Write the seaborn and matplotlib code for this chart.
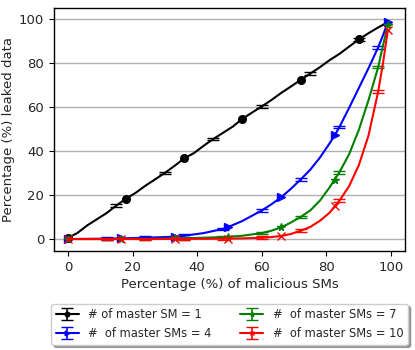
import numpy as np
import matplotlib
matplotlib.use("Agg")
import matplotlib.pyplot as plt
import seaborn as sns

# x positions (percentage of malicious SMs)
x_one = [0, 3, 6, 9, 12, 15, 18, 21, 24, 27, 30, 33, 36, 39, 42, 45, 48, 51,
         54, 57, 60, 63, 66, 69, 72, 75, 78, 81, 84, 87, 90, 93, 96, 98.5]
x_many = [0, 6, 12, 16.5, 24, 30, 33, 36, 42, 48, 49.5, 54, 60, 63, 66, 69, 72,
          75, 78, 81, 82.5, 84, 87, 90, 93, 96, 97.5, 99]

# leaked data (%)
y_sm1 = [0.5, 2.8, 6.2, 9.0, 11.8, 15.2, 18.3, 21.0, 24.2, 27.1, 30.0, 33.2,
         36.6, 39.0, 42.3, 45.4, 48.2, 51.0, 54.6, 57.4, 60.2, 63.1, 66.3, 69.2,
         72.2, 75.1, 78.0, 81.2, 84.0, 87.3, 90.6, 93.4, 96.0, 98.0]
y_sm4 = [0, 0.1, 0.2, 0.3, 0.6, 0.9, 1.1, 1.5, 2.7, 4.6, 5.4, 8.2, 13.0, 15.8,
         19.0, 22.8, 27.0, 31.5, 37.0, 43.5, 47.0, 50.8, 59.5, 68.5, 77.5, 87.0,
         92.5, 98.5]
y_sm7 = [0, 0, 0, 0.05, 0.1, 0.2, 0.3, 0.35, 0.6, 0.9, 1.0, 1.5, 2.7, 3.8, 5.3,
         7.5, 10.0, 13.0, 17.5, 23.5, 27.0, 30.3, 38.5, 49.5, 63.0, 78.0, 88.0,
         97.0]
y_sm10 = [0, 0, 0, 0, 0, 0.05, 0.05, 0.1, 0.1, 0.2, 0.2, 0.3, 0.6, 0.9, 1.4,
          2.3, 3.8, 5.5, 8.3, 12.0, 14.8, 17.4, 24.0, 33.5, 47.0, 67.0, 80.0,
          95.0]

# error bar half-widths
err_sm1 = [0.6] * len(x_one)
err_many = [0.6] * len(x_many)

# which points get markers / error bars
marks_one = [0, 6, 12, 18, 24, 30]
errs_one = [5, 10, 15, 20, 25, 30]
marks_many = [0, 3, 6, 10, 14, 20, 27]
errs_many = [2, 4, 7, 9, 12, 16, 21, 25]

labels = ["# of master SM = 1", "#  of master SMs = 4",
          "#  of master SMs = 7", "#  of master SMs = 10"]

sns.set_theme(style="ticks")
plt.rcParams['font.family'] = ['DejaVu Sans']

fig = plt.figure(figsize=(4.15, 3.5), dpi=100)
ax = fig.add_axes([0.13, 0.283, 0.846, 0.694])


def mask(n, idx):
    m = [False] * n
    for i in idx:
        m[i] = True
    return m


series = [
    (x_one, y_sm1, err_sm1, marks_one, errs_one, 'black', 'o', 5.5),
    (x_many, y_sm4, err_many, marks_many, errs_many, 'blue', '>', 5.5),
    (x_many, y_sm7, err_many, marks_many, errs_many, 'green', '*', 5.5),
    (x_many, y_sm10, err_many, marks_many, errs_many, 'red', 'x', 5.5),
]

for (xs, ys, es, mk, ev, col, m, ms), lab in zip(series, labels):
    ax.errorbar(xs, ys, yerr=es, color=col, marker=m, markersize=ms,
                markevery=mk, errorevery=mask(len(xs), ev), capsize=4,
                linewidth=1.5, elinewidth=1.2, label=lab)

ax.set_xlim(-4.3, 104.3)
ax.set_ylim(-5.4, 104.8)
ax.set_xticks([0, 20, 40, 60, 80, 100])
ax.set_yticks([0, 20, 40, 60, 80, 100])
ax.yaxis.grid(True, color='#b0b0b0', linewidth=1)
ax.xaxis.grid(False)
for s in ax.spines.values():
    s.set_color('black')
    s.set_linewidth(1)
ax.tick_params(axis='both', labelsize=9.5, color='black', length=3.5, width=0.8)
ax.set_xlabel('Percentage (%) of malicious SMs', fontsize=9.5, labelpad=3)
ax.set_ylabel('Percentage (%) leaked data', fontsize=9.5, labelpad=3)

ax.legend(loc='upper center', bbox_to_anchor=(0.5, -0.193), ncol=2,
          shadow=True, fancybox=True, fontsize=8.3, frameon=True,
          markerscale=0.6, columnspacing=2.5, handletextpad=0.8,
          edgecolor='#cccccc')

fig.savefig('out.png', dpi=100)
